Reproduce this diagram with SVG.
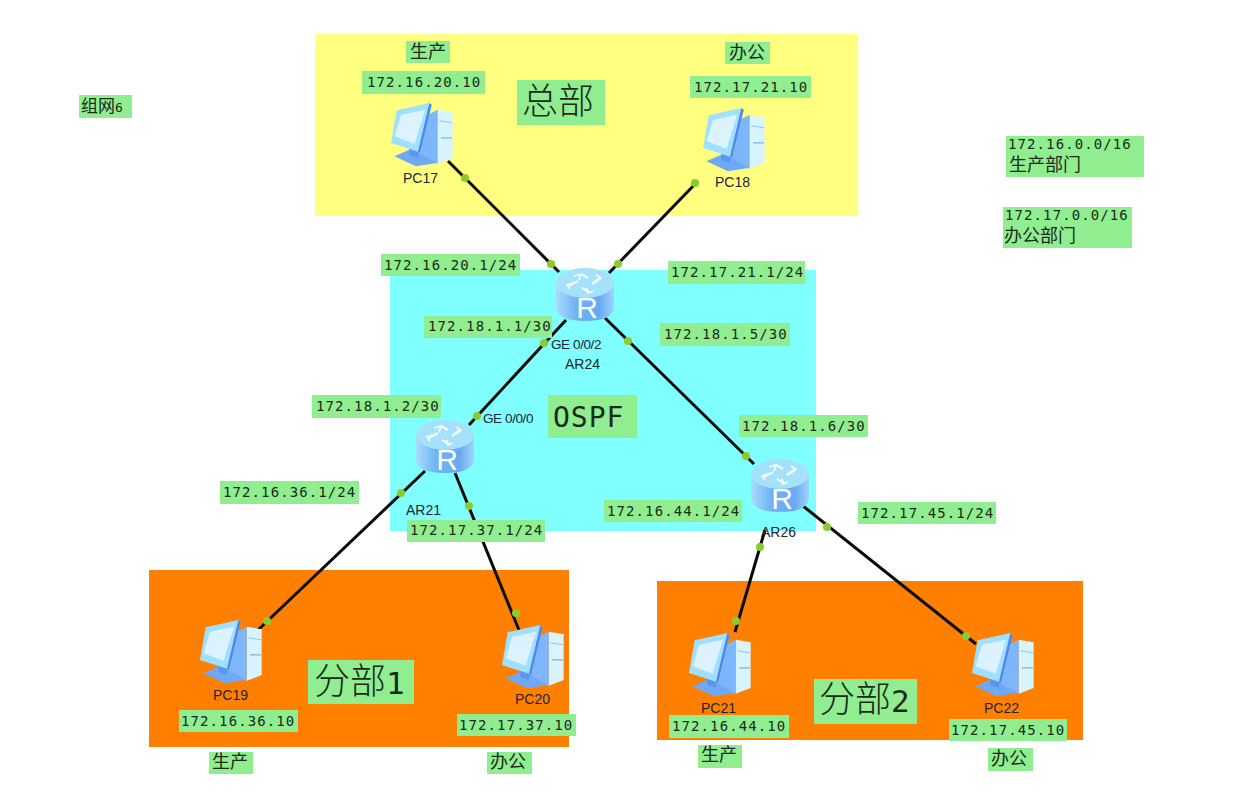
<svg xmlns="http://www.w3.org/2000/svg" width="1243" height="801" viewBox="0 0 1243 801">
<style>
.lb{fill:#90EE90}
.ip{font-family:"DejaVu Sans Mono","Liberation Mono",monospace;font-size:14px;letter-spacing:1.1px;fill:#1a2a1a}
.cn{font-family:"Noto Sans CJK SC","Liberation Sans",sans-serif;font-size:18px;fill:#1a2a1a}
.big{font-family:"Noto Sans CJK SC","DejaVu Sans Mono",sans-serif;font-size:36px;font-weight:300;fill:#1a2a1a}
.dev{font-family:"Liberation Sans",Arial,sans-serif;font-size:14px;fill:#1c2438}
.port{font-family:"Liberation Sans",Arial,sans-serif;font-size:13.5px;letter-spacing:-.4px;fill:#1c2438}
.ln{stroke:#0a0a0a;stroke-width:3;fill:none}
.dot{fill:#8CCB2E}
</style>
<defs>
<linearGradient id="rb" x1="0" x2="1" y1="0" y2="0"><stop offset="0" stop-color="#a8dcfb"/><stop offset=".35" stop-color="#6fb2f5"/><stop offset=".75" stop-color="#6aa9f2"/><stop offset="1" stop-color="#9fd4fa"/></linearGradient>
<g id="pc" transform="scale(.3333) translate(-95,-40)">
<polygon points="235,60 280,68 280,205 235,222" fill="#d8f4ff"/>
<polygon points="240,92 278,98 278,101 240,95" fill="#8fc4f5"/>
<polygon points="245,142 278,142 278,147 245,147" fill="#8fc4f5"/>
<polygon points="205,75 235,60 235,222 180,198" fill="#7eb6fb"/>
<polygon points="105,200 150,180 180,190 232,220 170,230" fill="#6fa8f5"/>
<polygon points="150,165 180,175 175,205 150,195" fill="#5a96ee"/>
<polygon points="112,62 210,40 217,46 182,190 176,186 95,160" fill="#9fe0ff"/>
<polygon points="210,40 217,46 182,190 176,186" fill="#4f86e8"/>
<polygon points="125,75 197,60 166,162 106,140" fill="#dcf3ff"/>
</g>
<g id="rt">
<path d="M-29,15V38Q-29,53 0,53T29,38V15Z" fill="url(#rb)"/>
<ellipse cx="0" cy="15" rx="29" ry="15" fill="#a4e2fb"/>
<g fill="none" stroke="#f2fbff" stroke-width="2.2">
<path d="M-16,18L-7,13M-4,6L3,10M15,10L7,16M4,24L-3,20"/>
<path d="M-11,8L-4,6L-6,12M11,7L16,10L11,14M-15,21L-18,17L-12,15M8,23L3,25L2,20" stroke-width="1.8"/>
</g>
<text x="2" y="50" text-anchor="middle" font-family="Liberation Sans,sans-serif" font-size="30" fill="#fff">R</text>
</g>
</defs>

<g id="regions">
<rect x="315" y="34" width="543" height="182" fill="#FFFF80"/>
<rect x="390" y="270" width="426" height="261" fill="#80FFFF"/>
<rect x="149" y="570" width="420" height="177" fill="#FF8000"/>
<rect x="657" y="581" width="426" height="159" fill="#FF8000"/>
</g>

<g id="connectors">
<line class="ln" x1="448" y1="161" x2="559" y2="272"/>
<line class="ln" x1="698" y1="181" x2="609" y2="273"/>
<line class="ln" x1="566" y1="320" x2="469" y2="425"/>
<line class="ln" x1="605" y1="318" x2="754" y2="464"/>
<line class="ln" x1="425" y1="471" x2="258" y2="630"/>
<line class="ln" x1="455" y1="473" x2="519" y2="630"/>
<line class="ln" x1="765" y1="530" x2="735" y2="632"/>
<line class="ln" x1="803" y1="506" x2="976" y2="644"/>
<g class="dots">
<circle class="dot" cx="465" cy="178" r="4"/><circle class="dot" cx="551" cy="264" r="4"/>
<circle class="dot" cx="695" cy="183" r="4"/><circle class="dot" cx="618" cy="264" r="4"/>
<circle class="dot" cx="544" cy="343" r="4"/><circle class="dot" cx="477" cy="416" r="4"/>
<circle class="dot" cx="628" cy="341" r="4"/><circle class="dot" cx="746" cy="456" r="4"/>
<circle class="dot" cx="401" cy="493" r="4"/><circle class="dot" cx="267" cy="621" r="4"/>
<circle class="dot" cx="469" cy="506" r="4"/><circle class="dot" cx="516" cy="613" r="4"/>
<circle class="dot" cx="760" cy="547" r="4"/><circle class="dot" cx="736" cy="621" r="4"/>
<circle class="dot" cx="827" cy="527" r="4"/><circle class="dot" cx="966" cy="636" r="4"/>
</g>
</g>

<g id="PC17"><use href="#pc" x="391" y="103"/><text class="dev" x="403" y="183">PC17</text></g>
<g id="PC18"><use href="#pc" x="703" y="108"/><text class="dev" x="715" y="187">PC18</text></g>
<g id="PC19"><use href="#pc" x="200" y="620"/><text class="dev" x="213" y="700">PC19</text></g>
<g id="PC20"><use href="#pc" x="502" y="625"/><text class="dev" x="515" y="704">PC20</text></g>
<g id="PC21"><use href="#pc" x="689" y="633"/><text class="dev" x="701" y="713">PC21</text></g>
<g id="PC22"><use href="#pc" x="972" y="633"/><text class="dev" x="984" y="713">PC22</text></g>
<g id="AR24"><use href="#rt" x="585" y="268"/><text class="dev" x="565" y="369">AR24</text></g>
<g id="AR21"><use href="#rt" x="445" y="420"/><text class="dev" x="406" y="515">AR21</text></g>
<g id="AR26"><use href="#rt" x="780" y="459"/><text class="dev" x="761" y="537">AR26</text></g>

<g id="labels">
<rect class="lb" x="406" y="41" width="44" height="22"/><text class="cn" x="410" y="58">生产</text>
<rect class="lb" x="725" y="42" width="45" height="22"/><text class="cn" x="729" y="59">办公</text>
<rect class="lb" x="362" y="71" width="123" height="23"/><text class="ip" x="367" y="87">172.16.20.10</text>
<rect class="lb" x="690" y="76" width="121" height="22"/><text class="ip" x="694" y="92">172.17.21.10</text>
<rect class="lb" x="517" y="80" width="88" height="45"/><text class="big" x="522" y="114">总部</text>
<rect class="lb" x="79" y="95" width="53" height="23"/><text class="cn" x="81" y="112" style="font-size:17px">组网<tspan font-family="DejaVu Sans Mono" font-size="13">6</tspan></text>
<rect class="lb" x="1006" y="136" width="138" height="41"/><text class="ip" x="1008" y="149">172.16.0.0/16</text><text class="cn" x="1009" y="171">生产部门</text>
<rect class="lb" x="1003" y="207" width="129" height="41"/><text class="ip" x="1005" y="220">172.17.0.0/16</text><text class="cn" x="1004" y="242">办公部门</text>
<rect class="lb" x="381" y="254" width="139" height="22"/><text class="ip" x="384" y="270">172.16.20.1/24</text>
<rect class="lb" x="668" y="261" width="137" height="23"/><text class="ip" x="671" y="277">172.17.21.1/24</text>
<rect class="lb" x="424" y="316" width="128" height="22"/><text class="ip" x="428" y="331">172.18.1.1/30</text>
<rect class="lb" x="660" y="323" width="130" height="23"/><text class="ip" x="664" y="339">172.18.1.5/30</text>
<rect class="lb" x="312" y="395" width="129" height="23"/><text class="ip" x="316" y="411">172.18.1.2/30</text>
<rect class="lb" x="548" y="395" width="89" height="43"/><text x="553" y="427" font-family="DejaVu Sans Mono,monospace" font-size="28" fill="#1a2a1a" letter-spacing="1">OSPF</text>
<rect class="lb" x="739" y="415" width="129" height="22"/><text class="ip" x="742" y="431">172.18.1.6/30</text>
<rect class="lb" x="220" y="481" width="139" height="23"/><text class="ip" x="223" y="497">172.16.36.1/24</text>
<rect class="lb" x="604" y="500" width="138" height="22"/><text class="ip" x="607" y="516">172.16.44.1/24</text>
<rect class="lb" x="858" y="502" width="138" height="22"/><text class="ip" x="861" y="518">172.17.45.1/24</text>
<rect class="lb" x="407" y="520" width="138" height="22"/><text class="ip" x="410" y="535">172.17.37.1/24</text>
<rect class="lb" x="308" y="660" width="106" height="44"/><text class="big" x="314" y="694">分部<tspan font-family="DejaVu Sans Mono" font-size="31">1</tspan></text>
<rect class="lb" x="814" y="679" width="103" height="45"/><text class="big" x="819" y="712">分部<tspan font-family="DejaVu Sans Mono" font-size="31">2</tspan></text>
<rect class="lb" x="179" y="710" width="119" height="22"/><text class="ip" x="181" y="726">172.16.36.10</text>
<rect class="lb" x="457" y="714" width="119" height="22"/><text class="ip" x="459" y="730">172.17.37.10</text>
<rect class="lb" x="669" y="715" width="120" height="23"/><text class="ip" x="672" y="731">172.16.44.10</text>
<rect class="lb" x="949" y="719" width="118" height="22"/><text class="ip" x="951" y="735">172.17.45.10</text>
<rect class="lb" x="209" y="752" width="44" height="22"/><text class="cn" x="212" y="768">生产</text>
<rect class="lb" x="487" y="752" width="45" height="22"/><text class="cn" x="490" y="768">办公</text>
<rect class="lb" x="698" y="745" width="44" height="23"/><text class="cn" x="701" y="761">生产</text>
<rect class="lb" x="988" y="748" width="45" height="23"/><text class="cn" x="991" y="765">办公</text>
<text class="port" x="551" y="349">GE 0/0/2</text>
<text class="port" x="483" y="423">GE 0/0/0</text>
</g>
</svg>
